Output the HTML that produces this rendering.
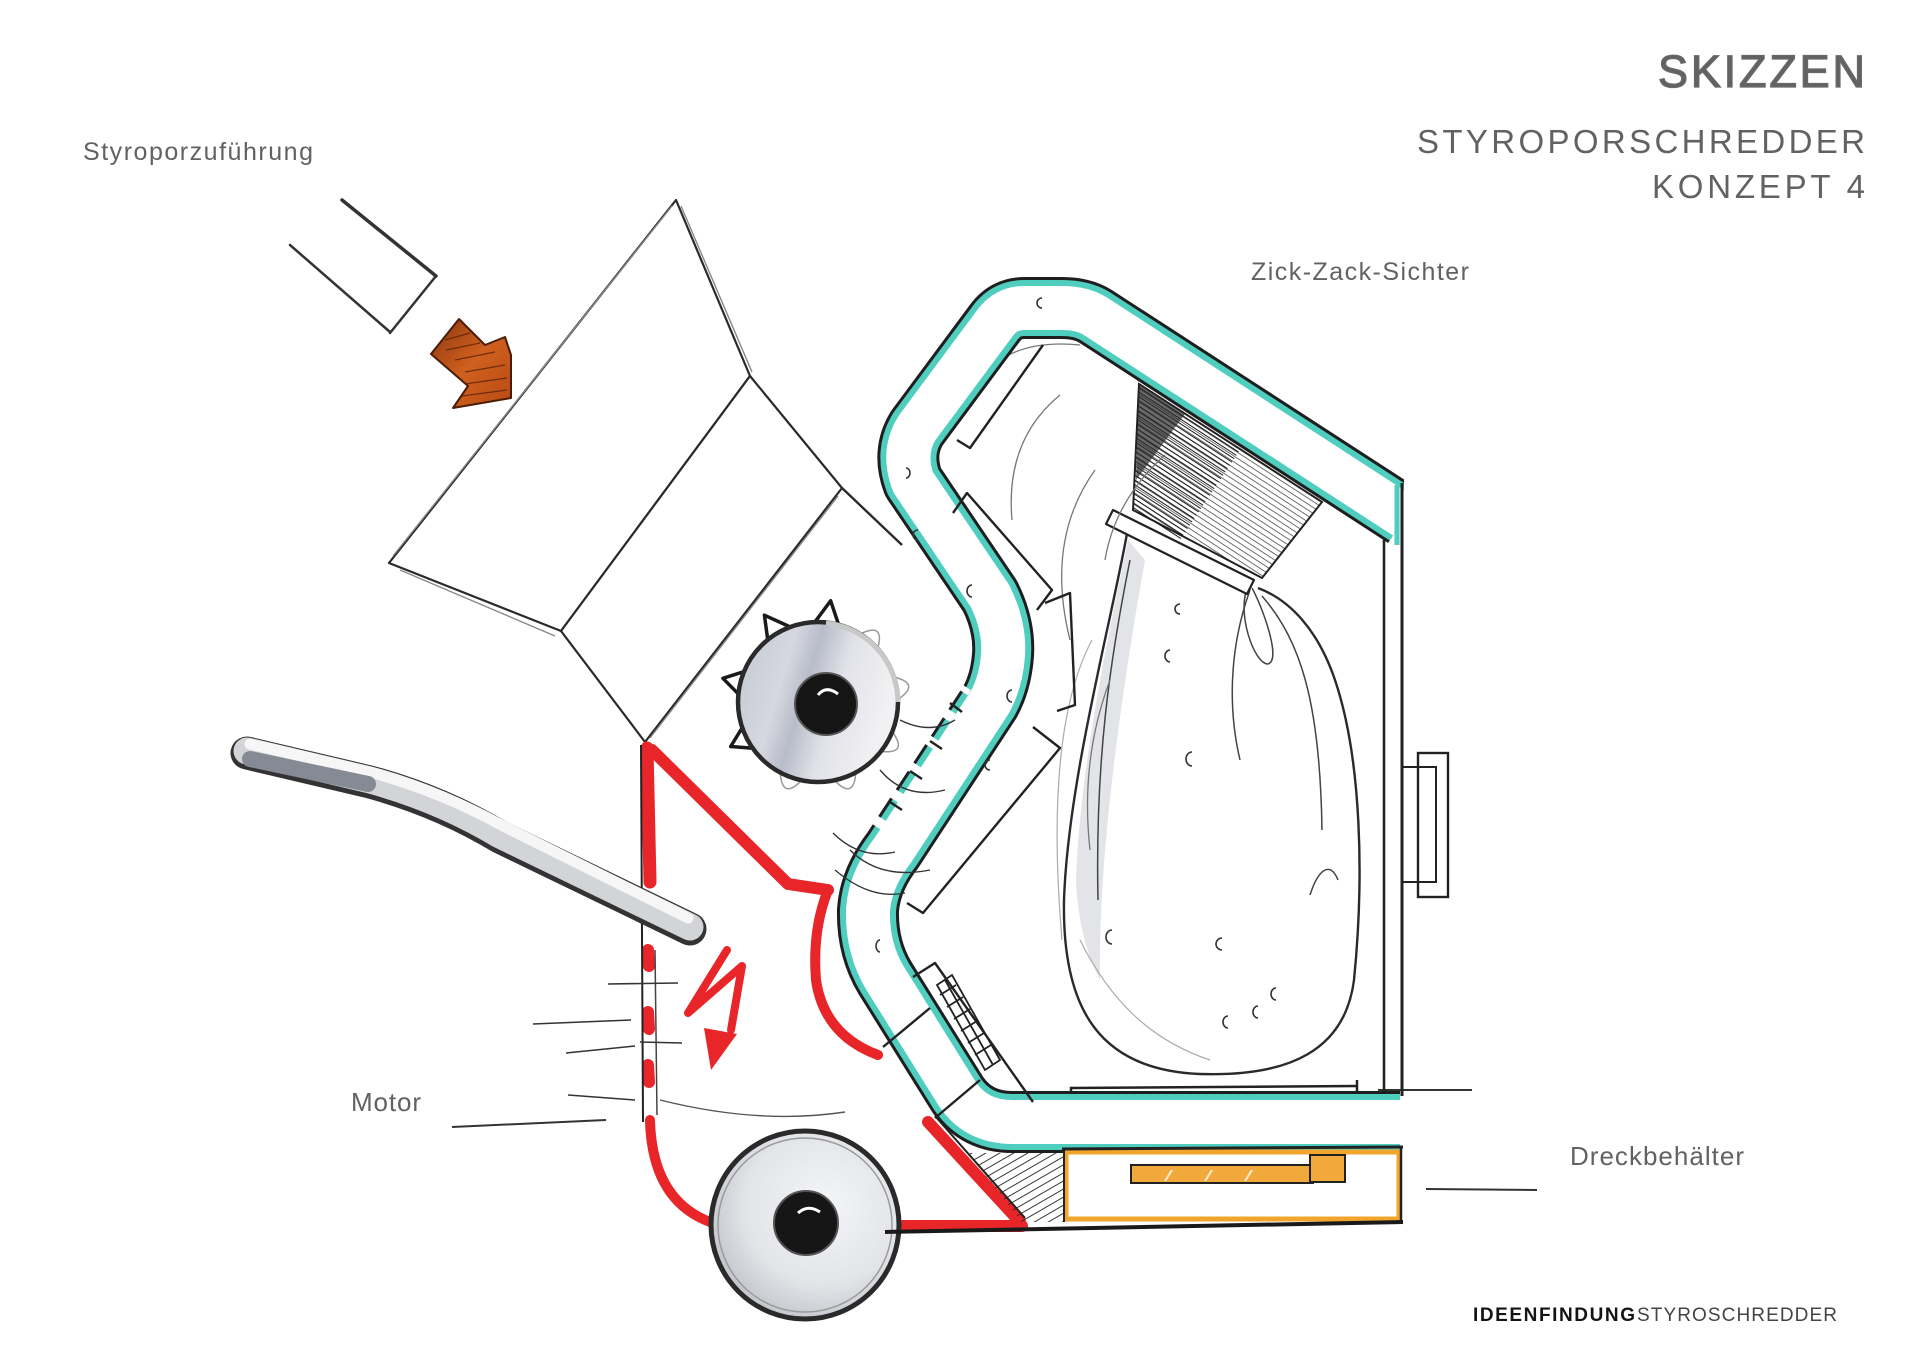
<!DOCTYPE html>
<html>
<head>
<meta charset="utf-8">
<style>
html,body{margin:0;padding:0;background:#fff;}
body{width:1920px;height:1358px;overflow:hidden;}
svg{display:block;}
.lbl{font-family:"Liberation Sans",sans-serif;fill:#626262;}
</style>
</head>
<body>
<svg width="1920" height="1358" viewBox="0 0 1920 1358" xmlns="http://www.w3.org/2000/svg">
<defs>
  <pattern id="hatch" patternUnits="userSpaceOnUse" width="4" height="4" patternTransform="rotate(33)">
    <line x1="0" y1="0" x2="4" y2="0" stroke="#1a1a1a" stroke-width="2"/>
  </pattern>
  <pattern id="hatchL" patternUnits="userSpaceOnUse" width="5" height="5" patternTransform="rotate(33)">
    <line x1="0" y1="0" x2="5" y2="0" stroke="#333" stroke-width="1.4"/>
  </pattern>
  <pattern id="hatch2" patternUnits="userSpaceOnUse" width="7" height="7" patternTransform="rotate(60)">
    <line x1="0" y1="0" x2="0" y2="7" stroke="#222" stroke-width="1.8"/>
  </pattern>
  <radialGradient id="wheelG" cx="0.6" cy="0.4" r="0.7">
    <stop offset="0" stop-color="#f4f5f7"/>
    <stop offset="0.6" stop-color="#e2e4e8"/>
    <stop offset="1" stop-color="#b9bcc2"/>
  </radialGradient>
  <linearGradient id="cutG" x1="0" y1="0" x2="1" y2="0.3">
    <stop offset="0" stop-color="#c4c7d0"/>
    <stop offset="0.35" stop-color="#d6d8e0"/>
    <stop offset="0.5" stop-color="#b8bcc9"/>
    <stop offset="0.7" stop-color="#e2e3e9"/>
    <stop offset="1" stop-color="#f1f1f3"/>
  </linearGradient>
  <linearGradient id="arrowG" x1="0" y1="0" x2="1" y2="1">
    <stop offset="0" stop-color="#8a3510"/>
    <stop offset="0.5" stop-color="#d0601e"/>
    <stop offset="1" stop-color="#b84a14"/>
  </linearGradient>
</defs>

<rect width="1920" height="1358" fill="#ffffff"/>

<!-- ===== TEXT ===== -->
<text class="lbl" x="1658" y="87" font-size="45" textLength="207" lengthAdjust="spacing" fill="#686868" stroke="#686868" stroke-width="1.3">SKIZZEN</text>
<text class="lbl" x="1417" y="153" font-size="33" textLength="448" lengthAdjust="spacing" fill="#6e6e6e">STYROPORSCHREDDER</text>
<text class="lbl" x="1652" y="198" font-size="33" textLength="213" lengthAdjust="spacing" fill="#6e6e6e">KONZEPT 4</text>

<text class="lbl" x="83" y="160" font-size="25" textLength="230" lengthAdjust="spacing">Styroporzuführung</text>
<text class="lbl" x="1251" y="280" font-size="25" textLength="218" lengthAdjust="spacing">Zick-Zack-Sichter</text>
<text class="lbl" x="351" y="1111" font-size="26" textLength="70" lengthAdjust="spacing">Motor</text>
<text class="lbl" x="1570" y="1165" font-size="26" textLength="174" lengthAdjust="spacing">Dreckbehälter</text>

<text x="1473" y="1321" font-family="Liberation Sans, sans-serif" font-size="19" font-weight="bold" fill="#141414" textLength="162" lengthAdjust="spacing">IDEENFINDUNG</text>
<text x="1637" y="1321" font-family="Liberation Sans, sans-serif" font-size="19" fill="#444" textLength="200" lengthAdjust="spacing">STYROSCHREDDER</text>

<!-- label lines -->
<line x1="452" y1="1127" x2="606" y2="1120" stroke="#333" stroke-width="2"/>
<line x1="1426" y1="1189" x2="1537" y2="1190" stroke="#333" stroke-width="2"/>
<line x1="1378" y1="1090" x2="1472" y2="1090" stroke="#333" stroke-width="2"/>

<!-- ===== CHUTE ===== -->
<g fill="none" stroke="#333" stroke-linecap="round">
  <line x1="342" y1="200" x2="436" y2="276" stroke-width="3.5"/>
  <line x1="290" y1="245" x2="390" y2="332" stroke-width="2.5"/>
  <line x1="436" y1="276" x2="390" y2="333" stroke-width="2.5"/>
</g>

<!-- ===== ARROW ===== -->
<polygon points="459,319 485,345 505,337 511,355 511,398 453,408 468,386 431,354" fill="url(#arrowG)" stroke="#4a1c06" stroke-width="2" stroke-linejoin="round"/>
<g stroke="#5a2308" stroke-width="1.3" fill="none" opacity="0.8">
  <line x1="445" y1="340" x2="470" y2="333"/>
  <line x1="446" y1="350" x2="480" y2="343"/>
  <line x1="455" y1="360" x2="495" y2="352"/>
  <line x1="465" y1="372" x2="505" y2="365"/>
  <line x1="465" y1="384" x2="507" y2="378"/>
  <line x1="462" y1="396" x2="507" y2="390"/>
</g>

<!-- ===== HOPPER ===== -->
<g fill="#fff" stroke="#2a2a2a" stroke-width="2.2" stroke-linejoin="round">
  <polygon points="389,563 676,200 750,376 561,631"/>
  <polygon points="561,631 750,376 842,488 645,742"/>
</g>
<g fill="none" stroke="#888" stroke-width="1.4">
  <line x1="393" y1="556" x2="672" y2="206"/>
  <line x1="681" y1="206" x2="752" y2="372"/>
  <line x1="838" y1="496" x2="650" y2="738"/>
  <line x1="400" y1="570" x2="555" y2="636"/>
</g>
<line x1="842" y1="488" x2="902" y2="545" stroke="#2a2a2a" stroke-width="2.4"/>

<!-- ===== CABINET right wall ===== -->
<g stroke="#222" fill="none">
  <line x1="1384" y1="540" x2="1384" y2="1094" stroke-width="2.6"/>
  <line x1="1402" y1="483" x2="1402" y2="1096" stroke-width="3"/>
  <rect x="1418" y="753" width="30" height="144" stroke-width="2.4"/>
  <polyline points="1402,767 1436,767 1436,882 1402,882" stroke-width="2"/>
</g>

<!-- bag tray -->
<g stroke="#222" fill="none" stroke-width="2.5">
  <polyline points="1071,1112 1071,1088 1357,1086"/>
  <line x1="1357" y1="1080" x2="1357" y2="1094"/>
  <line x1="1345" y1="1092" x2="1384" y2="1092" stroke-width="1.6"/>
</g>

<!-- ===== BAG ===== -->
<path d="M1128,528 C1112,620 1068,780 1064,900 C1062,1010 1100,1070 1200,1074 C1290,1077 1345,1050 1354,980 C1364,880 1362,760 1335,680 C1318,630 1290,600 1258,588 Z" fill="#fff" stroke="none"/>
<path d="M1128,540 C1112,620 1080,760 1076,880 C1078,930 1090,960 1100,980 C1098,860 1120,700 1145,560 Z" fill="#e3e4e7"/>
<path d="M1128,528 C1112,620 1068,780 1064,900 C1062,1010 1100,1070 1200,1074 C1290,1077 1345,1050 1354,980 C1364,880 1362,760 1335,680 C1318,630 1290,600 1258,588" fill="none" stroke="#2a2a2a" stroke-width="2.4"/>
<g fill="none" stroke="#444" stroke-width="1.5">
  <path d="M1130,560 C1110,660 1095,760 1098,900"/>
  <path d="M1248,586 C1236,612 1254,664 1268,664 C1282,660 1262,606 1252,588"/>
  <path d="M1250,590 C1232,640 1226,700 1240,760"/>
  <path d="M1262,596 C1300,640 1320,700 1322,830"/>
  <path d="M1310,895 C1318,870 1330,860 1338,880"/>
</g>
<g fill="none" stroke="#aaa" stroke-width="1.2">
  <path d="M1092,640 C1060,700 1050,800 1062,940"/>
  <path d="M1080,940 C1110,1000 1150,1040 1210,1060"/>
</g>

<!-- hatched box + clamp -->
<polygon points="1139,384 1322,502 1262,578 1133,510" fill="url(#hatchL)" stroke="#222" stroke-width="2"/>
<polygon points="1139,384 1240,450 1180,540 1133,510" fill="url(#hatch)"/>
<polygon points="1139,384 1185,414 1136,480" fill="#2a2a2a" opacity="0.7"/>
<polygon points="1113,510 1254,580 1247,594 1106,524" fill="#fff" stroke="#222" stroke-width="2.2" stroke-linejoin="round"/>

<!-- flow lines in loop -->
<g fill="none" stroke="#777" stroke-width="1.3">
  <path d="M1060,395 Q1005,440 1012,520"/>
  <path d="M1095,470 Q1045,540 1070,640"/>
  <path d="M1165,455 Q1115,500 1105,560"/>
  <path d="M1000,360 Q1030,340 1080,345"/>
  <path d="M1110,680 Q1080,760 1090,850"/>
  <path d="M1175,335 Q1200,360 1190,390"/>
</g>

<!-- ===== DUCT (Zick-Zack) ===== -->
<g fill="none" stroke-linejoin="round">
  <path d="M1405,517 L1095,316 Q1082,308 1062,308 L1024,308 Q1006,308 995,323 L917,428 Q902,452 913,482 L990,596 Q1005,626 1003,655 Q1001,682 990,702 L893,850 Q870,880 868,910 Q867,948 885,978 L958,1095 Q977,1122 1012,1122 L1400,1122" stroke="#1e1e1e" stroke-width="62"/>
  <path d="M1405,517 L1095,316 Q1082,308 1062,308 L1024,308 Q1006,308 995,323 L917,428 Q902,452 913,482 L990,596 Q1005,626 1003,655 Q1001,682 990,702 L893,850 Q870,880 868,910 Q867,948 885,978 L958,1095 Q977,1122 1012,1122 L1400,1122" stroke="#4fcdbf" stroke-width="56"/>
  <path d="M1405,517 L1095,316 Q1082,308 1062,308 L1024,308 Q1006,308 995,323 L917,428 Q902,452 913,482 L990,596 Q1005,626 1003,655 Q1001,682 990,702 L893,850 Q870,880 868,910 Q867,948 885,978 L958,1095 Q977,1122 1012,1122 L1400,1122" stroke="#ffffff" stroke-width="44"/>
</g>
<!-- cut right end of duct at wall -->
<rect x="1404" y="455" width="40" height="110" fill="#fff"/>
<line x1="1402" y1="483" x2="1402" y2="560" stroke="#222" stroke-width="3"/>
<line x1="1397" y1="485" x2="1397" y2="545" stroke="#4fcdbf" stroke-width="5"/>
<!-- gaps in outer wall near cutter -->
<path d="M966,687 L870,835" stroke="#fff" stroke-width="12" stroke-dasharray="10 22" stroke-dashoffset="4" fill="none"/>
<g stroke="#222" stroke-width="2.5">
  <line x1="950" y1="703" x2="962" y2="712"/>
  <line x1="930" y1="741" x2="942" y2="749"/>
  <line x1="910" y1="771" x2="922" y2="779"/>
  <line x1="890" y1="802" x2="902" y2="810"/>
</g>

<!-- baffles -->
<g fill="none" stroke="#222" stroke-width="2.4" stroke-linejoin="round">
  <polyline points="1043,345 970,448 957,440"/>
  <polyline points="953,513 967,493 1052,590 1037,610"/>
  <polyline points="1045,603 1070,593 1075,705 1057,711"/>
  <polyline points="1033,727 1060,748 923,913 907,903"/>
  <polyline points="913,977 935,963 1033,1102"/>
  <line x1="883" y1="1047" x2="930" y2="1008"/>
  <line x1="935" y1="1118" x2="980" y2="1080"/>
</g>
<!-- grid -->
<g stroke="#222" stroke-width="1.8" fill="none">
  <polygon points="937,985 952,975 1000,1060 985,1070"/>
  <line x1="945" y1="980" x2="993" y2="1065"/>
  <line x1="940" y1="995" x2="956" y2="985"/>
  <line x1="947" y1="1007" x2="963" y2="997"/>
  <line x1="954" y1="1019" x2="970" y2="1009"/>
  <line x1="961" y1="1031" x2="977" y2="1021"/>
  <line x1="968" y1="1043" x2="984" y2="1033"/>
  <line x1="975" y1="1055" x2="991" y2="1045"/>
</g>

<!-- particles -->
<g fill="none" stroke="#333" stroke-width="1.6">
  <path d="M1042,298 a5,5 0 1 0 0,10"/>
  <path d="M906,468 a4,5 0 1 1 0,10"/>
  <path d="M918,530 a5,5 0 1 0 0,10"/>
  <path d="M972,585 a5,6 0 1 0 0,12"/>
  <path d="M1012,690 a5,6 0 1 0 0,12"/>
  <path d="M990,760 a5,5 0 1 0 0,10"/>
  <path d="M880,940 a4,6 0 1 0 0,12"/>
  <path d="M1170,650 a5,6 0 1 0 0,12"/>
  <path d="M1192,752 a6,7 0 1 0 0,14"/>
  <path d="M1112,930 a6,7 0 1 0 0,14"/>
  <path d="M1222,938 a6,6 0 1 0 0,12"/>
  <path d="M1228,1016 a5,6 0 1 0 0,12"/>
  <path d="M1258,1006 a5,6 0 1 0 0,12"/>
  <path d="M1276,988 a5,6 0 1 0 0,12"/>
  <path d="M1180,604 a5,5 0 1 0 0,10"/>
</g>

<!-- ===== CUTTER ===== -->
<g fill="none" stroke-linejoin="round" stroke-linecap="round">
  <g stroke="#1a1a1a" stroke-width="3.5">
    <path transform="translate(818,702) rotate(-30)" d="M-12,-80 L-3,-102 L12,-81"/>
    <path transform="translate(818,702) rotate(6)" d="M-11,-80 L2,-102 L12,-80"/>
    <path transform="translate(818,702) rotate(-76)" d="M-11,-80 L0,-98 L11,-80"/>
    <path transform="translate(818,702) rotate(-117)" d="M-11,-80 L0,-98 L11,-80"/>
  </g>
  <g stroke="#999" stroke-width="1.5">
    <path transform="translate(818,702) rotate(40)" d="M-11,-80 Q0,-104 11,-80"/>
    <path transform="translate(818,702) rotate(80)" d="M-11,-80 Q0,-104 11,-80"/>
    <path transform="translate(818,702) rotate(120)" d="M-11,-80 Q0,-104 11,-80"/>
    <path transform="translate(818,702) rotate(160)" d="M-11,-80 Q0,-104 11,-80"/>
    <path transform="translate(818,702) rotate(-160)" d="M-11,-80 Q0,-104 11,-80"/>
  </g>
</g>
<circle cx="818" cy="702" r="80" fill="url(#cutG)" stroke="#2a2a2a" stroke-width="4.5"/>
<path d="M826,623 A80,80 0 0 1 898,702" fill="none" stroke="#c8c8c8" stroke-width="5"/>
<circle cx="826" cy="704" r="31" fill="#151515" stroke="#555" stroke-width="2"/>
<path d="M818,695 Q826,685 838,694" fill="none" stroke="#fff" stroke-width="3"/>

<!-- flow arcs near cutter -->
<g fill="none" stroke="#333" stroke-width="1.4">
  <path d="M833,833 Q860,860 895,852"/>
  <path d="M880,770 Q905,800 945,790"/>
  <path d="M900,720 Q930,735 955,720"/>
  <path d="M850,850 Q880,880 930,870"/>
  <path d="M835,870 Q870,900 905,893"/>
</g>

<!-- ===== RED BODY ===== -->
<g fill="none" stroke="#e8262a" stroke-linecap="round" stroke-linejoin="round">
  <polyline points="647,748 650,882" stroke-width="13"/>
  <polyline points="652,750 788,884 828,890" stroke-width="12"/>
  <path d="M828,890 Q812,930 816,980 Q824,1035 878,1055" stroke-width="10"/>
  <line x1="648" y1="950" x2="649" y2="966" stroke-width="12"/>
  <line x1="648" y1="1012" x2="649" y2="1029" stroke-width="12"/>
  <line x1="648" y1="1065" x2="649" y2="1082" stroke-width="12"/>
  <path d="M650,1120 Q652,1200 710,1222" stroke-width="10"/>
  <line x1="928" y1="1122" x2="1020" y2="1222" stroke-width="12"/>
  <line x1="888" y1="1226" x2="1022" y2="1226" stroke-width="12"/>
</g>
<g fill="none" stroke="#222" stroke-width="2">
  <line x1="641" y1="745" x2="643" y2="1122"/>
  <line x1="655" y1="950" x2="657" y2="1115" stroke="#444" stroke-width="1.5"/>
  <path d="M660,1100 Q760,1125 845,1112" stroke="#555" stroke-width="1.4"/>
  <line x1="935" y1="1116" x2="1025" y2="1218"/>
</g>
<!-- lightning -->
<polyline points="727,950 688,1013 742,966 731,1030" fill="none" stroke="#e8262a" stroke-width="8" stroke-linejoin="round" stroke-linecap="round"/>
<polygon points="704,1028 737,1034 711,1070" fill="#e8262a"/>

<!-- motor speed lines -->
<g stroke="#333" stroke-width="1.6" fill="none">
  <line x1="608" y1="984" x2="678" y2="983"/>
  <line x1="533" y1="1024" x2="631" y2="1020"/>
  <line x1="566" y1="1053" x2="635" y2="1046"/>
  <line x1="640" y1="1042" x2="682" y2="1043"/>
  <line x1="568" y1="1095" x2="635" y2="1100"/>
</g>

<!-- ===== HANDLE ===== -->
<g fill="none" stroke-linecap="round" stroke-linejoin="round">
  <path d="M247,753 L370,782 Q440,801 500,837 L690,929" stroke="#333" stroke-width="33"/>
  <path d="M247,751 L370,780 Q440,799 500,835 L690,927" stroke="#d3d4d8" stroke-width="27"/>
  <path d="M250,744 L370,772 Q440,791 503,826 L688,918" stroke="#f6f6f7" stroke-width="11"/>
  <path d="M250,759 L368,784" stroke="#868a95" stroke-width="16"/>
</g>

<!-- ===== WHEEL ===== -->
<circle cx="805" cy="1225" r="94" fill="url(#wheelG)" stroke="#2a2a2a" stroke-width="5"/>
<circle cx="805" cy="1225" r="87" fill="none" stroke="#9a9a9a" stroke-width="1.5"/>
<circle cx="806" cy="1223" r="32" fill="#161616" stroke="#555" stroke-width="2"/>
<path d="M798,1213 Q808,1204 820,1212" fill="none" stroke="#fff" stroke-width="3"/>

<!-- ===== DRAWER ===== -->
<polygon points="968,1153 1064,1153 1064,1222 1022,1222" fill="url(#hatch2)"/>
<rect x="1066" y="1152" width="333" height="67" fill="#fff" stroke="#f2a52c" stroke-width="5"/>
<line x1="1062" y1="1149" x2="1403" y2="1147" stroke="#222" stroke-width="3"/>
<line x1="1064" y1="1150" x2="1064" y2="1222" stroke="#222" stroke-width="2"/>
<line x1="1401" y1="1147" x2="1401" y2="1222" stroke="#222" stroke-width="2.5"/>
<line x1="885" y1="1232" x2="1403" y2="1222" stroke="#1a1a1a" stroke-width="4"/>
<rect x="1131" y="1165" width="182" height="18" fill="#f2a93b" stroke="#222" stroke-width="2"/>
<rect x="1310" y="1155" width="35" height="27" fill="#f2a93b" stroke="#222" stroke-width="2"/>
<g stroke="#fff" stroke-width="2" opacity="0.8">
  <line x1="1165" y1="1181" x2="1172" y2="1170"/>
  <line x1="1205" y1="1181" x2="1212" y2="1170"/>
  <line x1="1245" y1="1181" x2="1252" y2="1170"/>
</g>
</svg>
</body>
</html>
